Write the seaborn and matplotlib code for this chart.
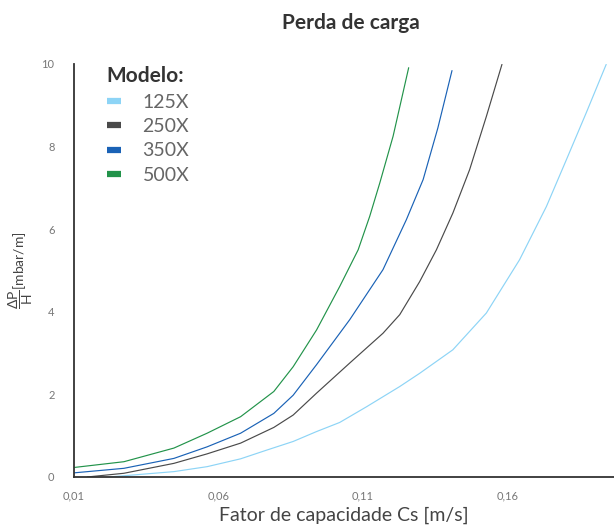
import numpy as np
import pandas as pd
import matplotlib
matplotlib.use('Agg')
import matplotlib.pyplot as plt
import seaborn as sns

# dados (Cs em m/s, perda de carga em mbar/m)
modelos = ['125X', '250X', '350X', '500X']
cores = ['#8dd4f6', '#4a4a4a', '#1a62b6', '#22934a']

x_125 = [0.0221, 0.0446, 0.0561, 0.0677, 0.0767, 0.0859, 0.0940, 0.1020, 0.1113, 0.1228,
         0.1297, 0.1412, 0.1528, 0.1643, 0.1736, 0.1805, 0.1874, 0.1943]
y_125 = [0.0, 0.13, 0.25, 0.44, 0.65, 0.86, 1.10, 1.32, 1.70, 2.19,
         2.51, 3.08, 3.97, 5.26, 6.55, 7.68, 8.82, 9.99]

x_250 = [0.0146, 0.0273, 0.0446, 0.0561, 0.0677, 0.0792, 0.0859, 0.0940, 0.1055, 0.1170,
         0.1228, 0.1297, 0.1355, 0.1412, 0.1470, 0.1528, 0.1582]
y_250 = [0.0, 0.09, 0.33, 0.56, 0.82, 1.20, 1.50, 2.03, 2.76, 3.48,
         3.93, 4.73, 5.50, 6.39, 7.44, 8.73, 9.99]

x_350 = [0.0100, 0.0273, 0.0446, 0.0561, 0.0677, 0.0792, 0.0859, 0.0940, 0.1055, 0.1170,
         0.1251, 0.1309, 0.1360, 0.1409]
y_350 = [0.10, 0.21, 0.45, 0.73, 1.06, 1.54, 1.98, 2.72, 3.81, 5.02,
         6.23, 7.20, 8.45, 9.84]

x_500 = [0.0100, 0.0273, 0.0446, 0.0561, 0.0677, 0.0792, 0.0859, 0.0940, 0.1020, 0.1084,
         0.1124, 0.1159, 0.1205, 0.1259]
y_500 = [0.23, 0.37, 0.70, 1.06, 1.46, 2.07, 2.67, 3.56, 4.61, 5.50,
         6.31, 7.12, 8.25, 9.91]

x_ticks = [0.01, 0.06, 0.11, 0.16]
x_tick_labels = ['0,01', '0,06', '0,11', '0,16']
y_ticks = [0, 2, 4, 6, 8, 10]

frames = []
for nome, xs, ys in zip(modelos, [x_125, x_250, x_350, x_500], [y_125, y_250, y_350, y_500]):
    frames.append(pd.DataFrame({'Cs': xs, 'dP': ys, 'Modelo': nome}))
df = pd.concat(frames, ignore_index=True)

sns.set_style('white')
plt.rcParams['font.family'] = ['Lato', 'DejaVu Sans']
plt.rcParams['mathtext.fontset'] = 'custom'
plt.rcParams['mathtext.rm'] = 'Lato'
plt.rcParams['mathtext.it'] = 'Lato:italic'

fig = plt.figure(figsize=(6.14, 5.27), dpi=100)
ax = fig.add_axes([0.1205, 0.0949, 0.8795, 0.7837])

sns.lineplot(data=df, x='Cs', y='dP', hue='Modelo', palette=cores, sort=False,
             linewidth=0.85, ax=ax, legend=False)
for ln in ax.get_lines():
    ln.set_solid_joinstyle('round')

ax.set_xlim(0.01, 0.197)
ax.set_ylim(0, 10)
ax.set_xticks(x_ticks)
ax.set_xticklabels(x_tick_labels)
ax.set_yticks(y_ticks)
ax.tick_params(axis='x', direction='inout', length=7, width=1, color='#333333',
               labelsize=8, labelcolor='#777777', pad=6)
ax.tick_params(axis='y', direction='out', length=5, width=1, color='#333333',
               labelsize=8, labelcolor='#777777', pad=9)
for s in ['top', 'right']:
    ax.spines[s].set_visible(False)
for s in ['left', 'bottom']:
    ax.spines[s].set_color('#333333')
    ax.spines[s].set_linewidth(1.3)

ax.set_xlabel('Fator de capacidade Cs [m/s]', fontsize=14, color='#444444', labelpad=4)
ax.set_ylabel(r'$\dfrac{\Delta\mathrm{P}}{\mathrm{H}}$[mbar/m]', fontsize=10, color='#444444', labelpad=5)
fig.suptitle('Perda de carga', x=0.572, y=0.975, fontsize=15, fontweight='bold', color='#333333')

handles = [plt.Line2D([], [], color=c, linewidth=4.5, solid_capstyle='butt') for c in cores]
leg = ax.legend(handles, modelos, title='Modelo:', loc='upper left',
                bbox_to_anchor=(0.028, 1.037), frameon=False, fontsize=14,
                handlelength=0.75, handletextpad=1.1, labelspacing=0.38)
leg.get_title().set_fontweight('bold')
leg.get_title().set_fontsize(15)
leg.get_title().set_color('#333333')
leg._legend_box.align = 'left'
for t in leg.get_texts():
    t.set_color('#666666')

fig.savefig('out.png', dpi=100)
